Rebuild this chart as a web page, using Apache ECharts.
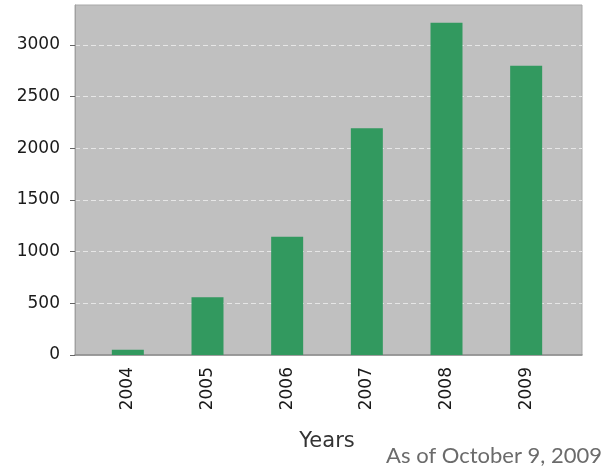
<!DOCTYPE html>
<html><head><meta charset="utf-8">
<script src="https://cdn.jsdelivr.net/npm/echarts@6/dist/echarts.min.js"></script>
<style>html,body{margin:0;padding:0;background:#fff}#c{width:616px;height:470px}</style>
</head><body><div id="c"></div>
<script>
const years = ['2004','2005','2006','2007','2008','2009'];
const counts = [50, 560, 1145, 2195, 3215, 2800];
const yTicks = [0, 500, 1000, 1500, 2000, 2500, 3000];
const yMax = 3387;
const xName = 'Years';
const note = 'As of October 9, 2009';
const FONT = "'DejaVu Sans', sans-serif";

const chart = echarts.init(document.getElementById('c'), null, {renderer: 'canvas'});
chart.setOption({
  animation: false,
  title: {
    text: note, right: 9, top: 440,
    textStyle: {fontFamily: 'Lato', fontWeight: 'normal', fontSize: 22, color: '#6b6b6b'}
  },
  grid: [
    {left: 75, right: 34, top: 5, bottom: 115, show: true, backgroundColor: '#c0c0c0', borderColor: '#a8a8a8', borderWidth: 1},
    {left: 88, right: 50, top: 5, bottom: 115}
  ],
  xAxis: [
    {gridIndex: 0, type: 'category', data: years, axisLabel: {show: false}, axisTick: {show: false},
     axisLine: {lineStyle: {color: '#8c8c8c', width: 1.5}}},
    {gridIndex: 1, type: 'category', data: years, axisLine: {show: false}, axisTick: {show: false},
     axisLabel: {rotate: 90, margin: 12, fontFamily: FONT, fontSize: 17, color: '#1a1a1a'},
     name: xName, nameLocation: 'middle', nameGap: 76,
     nameTextStyle: {fontFamily: FONT, fontSize: 21, color: '#333'}}
  ],
  yAxis: [
    {gridIndex: 0, type: 'value', min: 0, max: yMax, interval: 500,
     axisLine: {show: true, lineStyle: {color: '#a0a0a0'}},
     axisTick: {show: true, length: 5, customValues: yTicks, lineStyle: {color: '#666'}},
     axisLabel: {margin: 15, customValues: yTicks, formatter: v => String(v), fontFamily: FONT, fontSize: 17, color: '#1a1a1a'},
     splitLine: {show: true, showMinLine: false, showMaxLine: true, lineStyle: {color: '#e6e6e6', type: [5, 3], width: 1}}},
    {gridIndex: 1, type: 'value', min: 0, max: yMax, show: false, splitLine: {show: false}}
  ],
  series: [{
    type: 'bar', xAxisIndex: 1, yAxisIndex: 1, data: counts, barWidth: 32,
    itemStyle: {color: '#32995f'}
  }]
});
</script></body></html>
